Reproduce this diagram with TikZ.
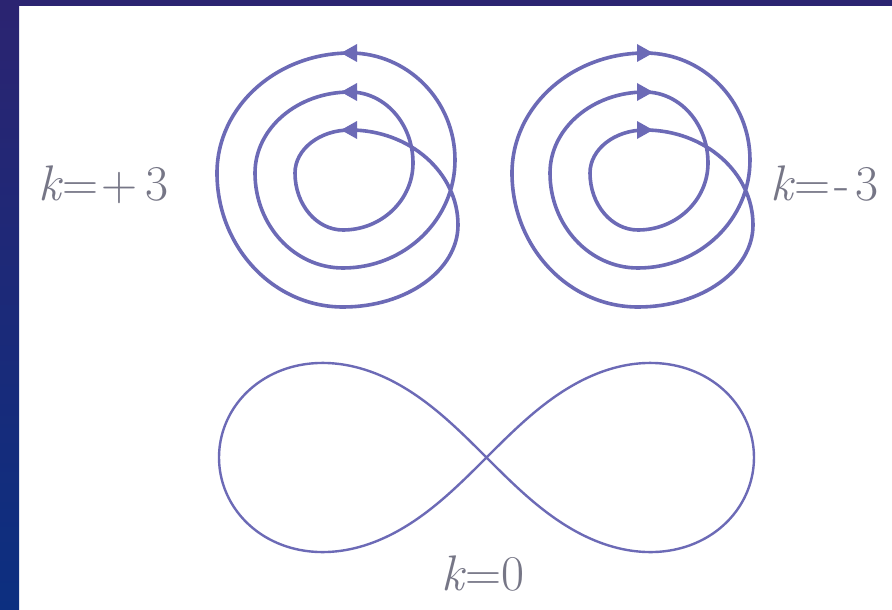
\documentclass[tikz,border=0pt]{standalone}
\usetikzlibrary{calc}
\definecolor{curve}{RGB}{108,106,182}
\definecolor{labelc}{RGB}{118,118,134}
\definecolor{bandtop}{RGB}{43,36,113}
\definecolor{bandbot}{RGB}{12,47,128}
\tikzset{
  spiral/.style={draw=curve, line width=3.6pt, line join=round},
  eight/.style={draw=curve, line width=2.4pt},
  tipl/.style={fill=curve},
  lbl/.style={text=labelc, font=\fontsize{50}{54}\selectfont, inner sep=0pt, anchor=base west}
}
\newcommand{\spiralpath}{(350,130)
  arc[start angle=90,end angle=180,x radius=55pt,y radius=43pt]
  arc[start angle=180,end angle=270,x radius=48pt,y radius=57pt]
  arc[start angle=270,end angle=360,x radius=70pt,y radius=67pt]
  arc[start angle=0,end angle=90,x radius=63pt,y radius=71pt]
  arc[start angle=90,end angle=180,x radius=95pt,y radius=81pt]
  arc[start angle=180,end angle=270,x radius=88pt,y radius=95pt]
  arc[start angle=270,end angle=360,x radius=112pt,y radius=108pt]
  arc[start angle=0,end angle=90,x radius=105pt,y radius=107pt]
  arc[start angle=90,end angle=180,x radius=133pt,y radius=120pt]
  arc[start angle=180,end angle=270,x radius=126pt,y radius=134pt]
  arc[start angle=270,end angle=360,x radius=115pt,y radius=82pt]
  arc[start angle=0,end angle=90,x radius=108pt,y radius=95pt] -- cycle}
\begin{document}
\begin{tikzpicture}[x=1pt,y=-1pt]
\useasboundingbox (0,0) rectangle (892,610);
% slide background
\fill[white] (0,0) rectangle (892,610);
\fill[bandtop] (0,0) rectangle (892,6);
\shade[top color=bandtop, bottom color=bandbot] (0,0) rectangle (19,610);
% k=+3 spiral
\draw[spiral] \spiralpath;
\foreach \yy in {53,92,130}
  \fill[tipl] (341,\yy) -- (357,\yy-9) -- (357,\yy+9) -- cycle;
% k=-3 spiral
\begin{scope}[xshift=295pt]
\draw[spiral] \spiralpath;
\foreach \yy in {53,92,130}
  \fill[tipl] (358,\yy) -- (342,\yy-9) -- (342,\yy+9) -- cycle;
\end{scope}
% k=0 lemniscate
\draw[eight] plot[domain=0:360, samples=240, smooth, variable=\t]
  ({486.5+267.5*cos(\t)/(1+sin(\t)^2)}, {457.5+267.5*sin(\t)*cos(\t)/(1+sin(\t)^2)});
% labels
\node[lbl] (lp) at (38,200) {\textit{k}=\hspace{3pt}+\hspace{8pt}3};
\node[lbl] (lm) at (770,200) {\textit{k}=\hspace{4pt}-\hspace{6pt}3};
\node[lbl] (lz) at (441,590) {\textit{k}=0};
\end{tikzpicture}
\end{document}
